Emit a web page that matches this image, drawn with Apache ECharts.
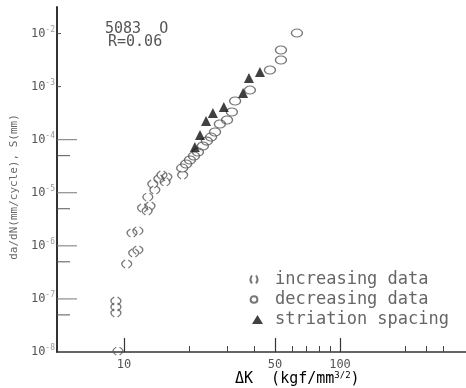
<!DOCTYPE html>
<html><head><meta charset="utf-8">
<script src="https://cdn.jsdelivr.net/npm/echarts@6/dist/echarts.min.js"></script>
<style>html,body{margin:0;padding:0;background:#fff}#c{width:466px;height:388px}</style>
</head><body><div id="c"></div>
<script>
// ΔK (kgf/mm^3/2) and da/dN (mm/cycle) / S (mm)
const increasingDK   = [18.7, 15.8, 15.0, 15.5, 14.5, 13.6, 13.9, 12.9, 13.2, 12.2, 12.8, 11.6, 10.9, 11.6, 11.1, 10.3, 9.18, 9.18, 9.18, 9.38];
const increasingRate = [2.16e-5, 1.98e-5, 2.16e-5, 1.60e-5, 1.82e-5, 1.46e-5, 1.13e-5, 8.3e-6, 5.64e-6, 5.16e-6, 4.53e-6, 1.91e-6, 1.75e-6, 8.36e-7, 7.33e-7, 4.55e-7, 9.14e-8, 7.05e-8, 5.43e-8, 1.04e-8];
const decreasingDK   = [63.2, 53.3, 53.3, 47.4, 38.3, 32.7, 31.6, 30.0, 27.8, 26.4, 25.3, 24.2, 23.2, 22.0, 21.1, 20.2, 19.4, 18.6];
const decreasingRate = [1.02e-2, 4.9e-3, 3.17e-3, 2.06e-3, 8.6e-4, 5.36e-4, 3.32e-4, 2.35e-4, 1.97e-4, 1.40e-4, 1.12e-4, 9.4e-5, 7.6e-5, 5.86e-5, 4.93e-5, 4.14e-5, 3.48e-5, 2.92e-5];
const striationDK    = [42.6, 37.9, 35.6, 29.0, 25.8, 24.0, 22.5, 21.3];
const striationS     = [1.88e-3, 1.45e-3, 7.56e-4, 4.13e-4, 3.18e-4, 2.25e-4, 1.22e-4, 7.28e-5];

const xLabelValues  = [10, 50, 100];
const xMinorTicks   = [20, 30, 40, 60, 70, 80, 90, 200, 250, 300];
const yDecades      = [1e-8, 1e-7, 1e-6, 1e-5, 1e-4, 1e-3, 1e-2];
const yLongTicks    = [1e-7, 1e-6, 1e-5, 1e-4];
const yMidTicks     = [5e-8, 5e-7, 5e-6, 5e-5];
const yShortTicks   = [1e-3, 1e-2];
const seriesNames   = ['increasing data', 'decreasing data', 'striation spacing'];
const noteLines     = ['5083  O', 'R=0.06'];
const xTitle        = ['ΔK  (kgf/mm', '3/2', ')'];
const yTitle        = 'da/dN(mm/cycle), S(mm)';

const X_MIN = 4.9, X_MAX = 383, Y_MIN = 1e-8, Y_MAX = Math.pow(10, -1.5);
const zip = (a, b) => a.map((v, i) => [v, b[i]]);
const FONT = 'DejaVu Sans Mono';
const TXT = '#555';
const PAREN = 'path://M4,0 Q0,5 4,10 M6,0 Q10,5 6,10';
// legend icons padded to the 24x9 legend box so they are not stretched
const LEG_PAREN = 'path://M0,0 M24,9 M6,0.5 Q3,4.5 6,8.5 M10,0.5 Q13,4.5 10,8.5';
const LEG_CIRCLE = 'path://M0,0 M24,9 M8,1.2 C10,1.2 11.4,2.6 11.4,4.5 C11.4,6.4 10,7.8 8,7.8 C6,7.8 4.6,6.4 4.6,4.5 C4.6,2.6 6,1.2 8,1.2 Z';
const LEG_TRI = 'path://M0,0 M24,9 M11.5,0 L17,9 L6,9 Z';

const chart = echarts.init(document.getElementById('c'), null, {renderer: 'canvas'});
const baseX = {type: 'log', logBase: 10, min: X_MIN, max: X_MAX, position: 'bottom', offset: 0, splitLine: {show: false}};

// inward-pointing y ticks (value, length), placed through the y scale
const tickRows = [].concat(
  yLongTicks.map(v => [X_MIN, v, 20]),
  yMidTicks.map(v => [X_MIN, v, 13]),
  yShortTicks.map(v => [X_MIN, v, 4])
);

chart.setOption({
  animation: false,
  backgroundColor: '#fff',
  grid: {left: 57, right: 0, top: 7, bottom: 36},
  xAxis: [
    Object.assign({}, baseX, {
      axisLine: {lineStyle: {color: '#333', width: 1.5}},
      axisTick: {inside: true, length: 6, customValues: xMinorTicks, lineStyle: {color: '#444'}},
      axisLabel: {customValues: xLabelValues, margin: 7, fontFamily: FONT, fontSize: 12, color: TXT,
                  formatter: v => String(Math.round(v))}
    }),
    Object.assign({}, baseX, {
      axisLine: {show: false},
      axisTick: {inside: true, length: 14, customValues: xLabelValues, lineStyle: {color: '#333', width: 1.2}},
      axisLabel: {show: false}
    })
  ],
  yAxis: {
    type: 'log', logBase: 10, min: Y_MIN, max: Y_MAX, position: 'left', offset: 0,
    splitLine: {show: false},
    axisLine: {lineStyle: {color: '#333', width: 2}},
    axisTick: {show: false},
    axisLabel: {customValues: yDecades, margin: 2,
      formatter: v => '{a|10}{b|' + '-' + Math.round(-Math.log10(v)) + '}',
      rich: {a: {fontFamily: FONT, fontSize: 12, color: TXT},
             b: {fontFamily: FONT, fontSize: 8, color: '#999', padding: [0, 0, 8, 0]}}}
  },
  legend: {
    data: [
      {name: seriesNames[0], icon: LEG_PAREN},
      {name: seriesNames[1], icon: LEG_CIRCLE},
      {name: seriesNames[2], icon: LEG_TRI}
    ],
    orient: 'vertical', left: 240, top: 266,
    itemWidth: 24, itemHeight: 9, itemGap: 3,
    textStyle: {fontFamily: FONT, fontSize: 17, color: '#666'}
  },
  graphic: [
    {type: 'text', left: 105, top: 22, style: {text: noteLines[0], fontFamily: FONT, fontSize: 15, fill: TXT}},
    {type: 'text', left: 108, top: 35, style: {text: noteLines[1], fontFamily: FONT, fontSize: 15, fill: TXT}},
    {type: 'text', left: 235, top: 371, style: {
      text: '{a|' + xTitle[0] + '}{s|' + xTitle[1] + '}{a|' + xTitle[2] + '}',
      rich: {a: {fontFamily: FONT, fontSize: 15, color: '#666'},
             s: {fontFamily: FONT, fontSize: 9, color: '#666', padding: [0, 0, 7, 0]}}}},
    {type: 'text', x: 14, y: 187, rotation: Math.PI / 2, style: {
      text: yTitle, fontFamily: FONT, fontSize: 11, fill: '#666', align: 'center', verticalAlign: 'middle'}}
  ],
  series: [
    {type: 'custom', xAxisIndex: 0, yAxisIndex: 0, silent: true, clip: false,
     data: tickRows, encode: {x: 0, y: 1},
     renderItem: (params, api) => {
       const p = api.coord([api.value(0), api.value(1)]);
       const len = api.value(2);
       return {type: 'line', shape: {x1: p[0], y1: p[1], x2: p[0] + len, y2: p[1]},
               style: {stroke: len >= 20 ? '#777' : '#555', lineWidth: 1}};
     }},
    {name: seriesNames[0], type: 'scatter', xAxisIndex: 0, yAxisIndex: 0,
     data: zip(increasingDK, increasingRate),
     symbol: PAREN, symbolSize: [10, 8],
     itemStyle: {color: 'transparent', borderColor: '#555', borderWidth: 1.2}},
    {name: seriesNames[1], type: 'scatter', xAxisIndex: 0, yAxisIndex: 0,
     data: zip(decreasingDK, decreasingRate),
     symbol: 'circle', symbolSize: [11, 8],
     itemStyle: {color: 'transparent', borderColor: '#555', borderWidth: 1.2}},
    {name: seriesNames[2], type: 'scatter', xAxisIndex: 0, yAxisIndex: 0,
     data: zip(striationDK, striationS),
     symbol: 'triangle', symbolSize: 10, symbolKeepAspect: true,
     itemStyle: {color: '#111'}}
  ]
});
</script></body></html>
